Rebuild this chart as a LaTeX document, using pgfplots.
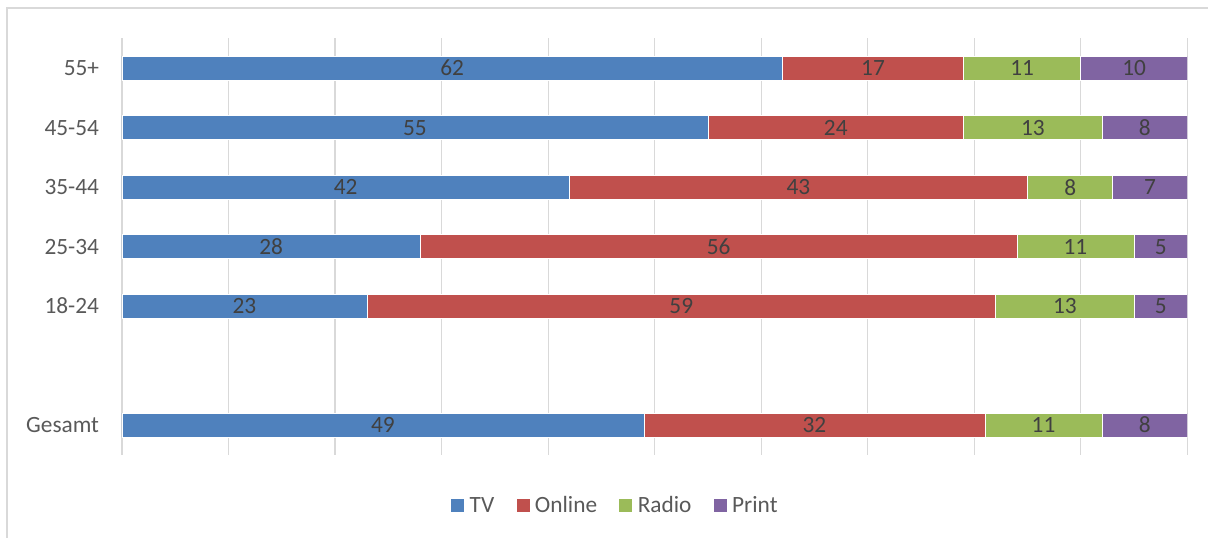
\documentclass[border=0pt]{standalone}
\usepackage{pgfplots}
\pgfplotsset{compat=1.18}
\usepackage{pgfplotstable}
\usepackage{fontspec}
\setmainfont{Carlito}

\definecolor{tvblue}{HTML}{4F81BD}
\definecolor{onlinered}{HTML}{C0504D}
\definecolor{radiogreen}{HTML}{9BBB59}
\definecolor{printpurple}{HTML}{8064A2}
\definecolor{gridgray}{HTML}{D9D9D9}
\definecolor{labelgray}{HTML}{595959}
\definecolor{valuegray}{HTML}{404040}

% y: 0 = Gesamt, 1 = leer, 2..6 = Altersgruppen
\pgfplotstableread{
y tv online radio print
6 62 17 11 10
5 55 24 13 8
4 42 43 8 7
3 28 56 11 5
2 23 59 13 5
0 49 32 11 8
}\mediadata

\begin{document}
\begin{tikzpicture}[x=0.75pt,y=0.75pt]
\path (0,0) rectangle (1209,538);
\draw[gridgray, line width=1pt] (7,0) -- (7,530) -- (1209,530);

\begin{axis}[
  at={(91.5pt,62.25pt)}, anchor=south west,
  scale only axis,
  width=799.5pt, height=312.4pt,
  xbar stacked,
  bar width=18pt,
  xmin=0, xmax=100,
  ymin=-0.5, ymax=6.5,
  xtick={0,10,...,100}, xticklabels={},
  ytick={0,2,3,4,5,6},
  yticklabels={Gesamt,18-24,25-34,35-44,45-54,55+},
  major tick length=0pt,
  xmajorgrids,
  grid style={gridgray, line width=0.9pt},
  axis line style={draw=none},
  yticklabel style={font=\fontsize{17.5}{21}\selectfont, text=labelgray, inner xsep=0pt, xshift=-17pt},
  /pgf/number format/assume math mode=true,
  nodes near coords={\pgfmathprintnumber{\rawv}},
  every node near coord/.append style={anchor=center, font=\fontsize{17.5}{21}\selectfont, text=valuegray},
  legend columns=4,
  legend style={at={(0.464,-0.122)}, anchor=center, draw=none, fill=none,
    font=\fontsize{17.5}{21}\selectfont, text=labelgray,
    nodes={inner xsep=3.5pt},
    /tikz/every even column/.append style={column sep=12.5pt}},
  legend image code/.code={\fill[#1] (0pt,-5.25pt) rectangle (10.5pt,5.25pt);},
]
\addplot[fill=tvblue, draw=white, line width=0.5pt,
  visualization depends on={\thisrow{tv} \as \rawv}]
  table[x=tv, y=y] {\mediadata};
\addplot[fill=onlinered, draw=white, line width=0.5pt,
  visualization depends on={\thisrow{online} \as \rawv}]
  table[x=online, y=y] {\mediadata};
\addplot[fill=radiogreen, draw=white, line width=0.5pt,
  visualization depends on={\thisrow{radio} \as \rawv}]
  table[x=radio, y=y] {\mediadata};
\addplot[fill=printpurple, draw=white, line width=0.5pt,
  visualization depends on={\thisrow{print} \as \rawv}]
  table[x=print, y=y] {\mediadata};
\legend{TV,Online,Radio,Print}
\end{axis}
\end{tikzpicture}
\end{document}
